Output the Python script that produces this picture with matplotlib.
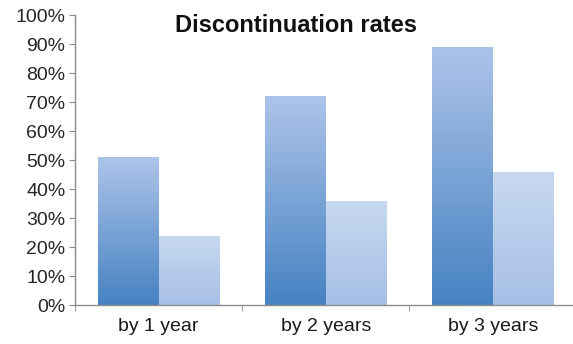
import matplotlib
matplotlib.use("Agg")
import matplotlib.pyplot as plt
import numpy as np
from matplotlib.colors import LinearSegmentedColormap
from matplotlib.ticker import PercentFormatter

categories = ["by 1 year", "by 2 years", "by 3 years"]
series_a = [51, 72, 89]
series_b = [24, 36, 46]

plt.rcParams["font.family"] = ["Liberation Sans", "DejaVu Sans"]

# per-bar vertical gradients, dark at the base and lighter at the top
cmap_a = LinearSegmentedColormap.from_list("a", ["#4682c2", "#adc4e9"])
cmap_b = LinearSegmentedColormap.from_list("b", ["#a6bfe5", "#c8d9f1"])

fig = plt.figure(figsize=(5.73, 3.44), dpi=100)
ax = fig.add_axes([0.131, 0.113, 0.875, 0.843])

x = np.arange(len(categories))
width = 0.363
grad = np.linspace(0, 1, 256).reshape(-1, 1)

for vals, offset, cmap in [(series_a, -width / 2, cmap_a), (series_b, width / 2, cmap_b)]:
    bars = ax.bar(x + offset, vals, width, color="none", edgecolor="none")
    for bar in bars:
        x0, y0 = bar.get_x(), bar.get_y()
        im = ax.imshow(grad, cmap=cmap, origin="lower", aspect="auto",
                       extent=[x0, x0 + bar.get_width(), y0, y0 + bar.get_height()],
                       zorder=2)
        im.set_clip_path(bar)

ax.set_xlim(-0.5, len(categories) - 0.5)
ax.set_ylim(0, 100)
ax.set_yticks(np.arange(0, 101, 10))
ax.yaxis.set_major_formatter(PercentFormatter(decimals=0))
ax.set_xticks(x)
ax.set_xticklabels(categories)
ax.set_xticks(np.arange(-0.5, len(categories)), minor=True)

for s in ["top", "right"]:
    ax.spines[s].set_visible(False)
for s in ["left", "bottom"]:
    ax.spines[s].set_color("#8c8c8c")
    ax.spines[s].set_linewidth(1.0)

ax.tick_params(axis="y", colors="#8c8c8c", labelcolor="#262626", labelsize=14,
               length=4, pad=3)
ax.tick_params(axis="x", which="major", length=0, labelsize=14,
               labelcolor="#1a1a1a", pad=9)
ax.tick_params(axis="x", which="minor", length=4, color="#8c8c8c")

fig.text(0.517, 0.927, "Discontinuation rates", ha="center", va="center",
         fontsize=17, fontweight="bold", color="#111111")

fig.savefig("out.png", dpi=100)
